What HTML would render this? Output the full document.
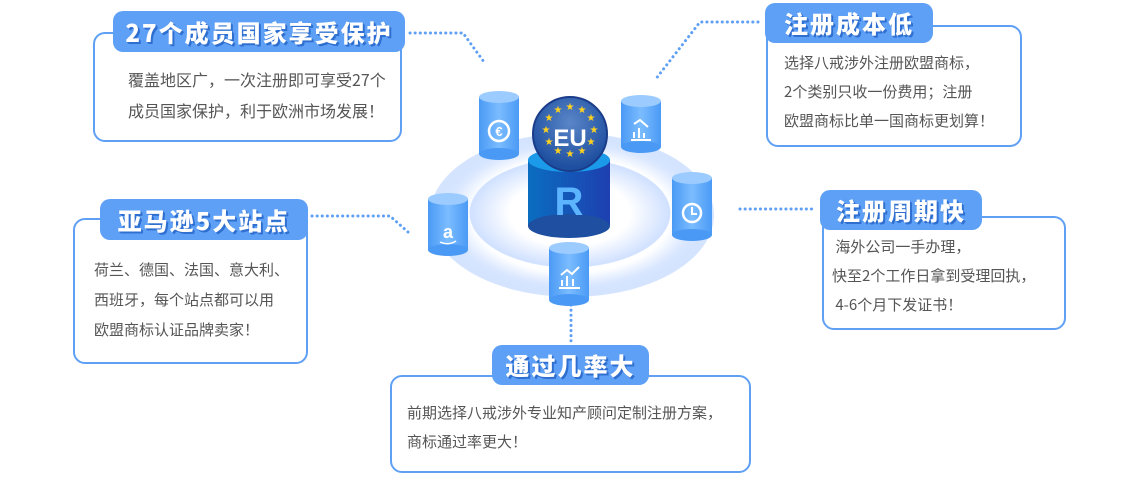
<!DOCTYPE html>
<html><head><meta charset="utf-8">
<style>
body{margin:0;width:1140px;height:493px;background:#fff;position:relative;overflow:hidden;font-family:"Liberation Sans","Noto Sans CJK SC",sans-serif;}
.box{position:absolute;border:2px solid #5fa0f5;border-radius:12px;background:#fff;box-sizing:border-box;}
.pill{position:absolute;background:#5fa0f7;border-radius:10px;color:#fff;font-weight:900;font-size:24px;text-align:center;box-sizing:border-box;text-shadow:1px 1px 0 #2e6fd0,2px 2px 0 #2e6fd0;letter-spacing:2px;font-family:"Noto Sans CJK SC",sans-serif;}
.t{position:absolute;white-space:nowrap;color:#555;font-family:"Noto Sans CJK SC",sans-serif;}
svg{position:absolute;left:0;top:0;}
</style></head><body>
<svg width="1140" height="493">
<defs>
<radialGradient id="ring" cx="50%" cy="50%" r="50%">
<stop offset="0.7" stop-color="#fff"/><stop offset="0.85" stop-color="#dbe8ff"/><stop offset="1" stop-color="#b9d3ff" stop-opacity="0.6"/></radialGradient>
<radialGradient id="inner" cx="50%" cy="50%" r="50%">
<stop offset="0.6" stop-color="#fff"/><stop offset="1" stop-color="#cfe0ff"/></radialGradient>
<linearGradient id="cyl" x1="0" x2="1"><stop offset="0" stop-color="#4a9af5"/><stop offset="0.5" stop-color="#7bbcff"/><stop offset="1" stop-color="#4a9af5"/></linearGradient>
<linearGradient id="big" x1="0" x2="1"><stop offset="0" stop-color="#0a6ec0"/><stop offset="1" stop-color="#1e3fb0"/></linearGradient>
<radialGradient id="eu" cx="50%" cy="35%" r="60%"><stop offset="0" stop-color="#5a86c8"/><stop offset="1" stop-color="#1e4fa0"/></radialGradient>
</defs>
<ellipse cx="572" cy="215" rx="142" ry="82" fill="url(#ring)"/>
<ellipse cx="570" cy="213" rx="100" ry="54" fill="url(#inner)" stroke="#d4e4ff"/>
<g fill="none" stroke="#5fa0f5" stroke-width="3" stroke-dasharray="0.1 5" stroke-linecap="round">
<path d="M410 33 H463 L484 62"/>
<path d="M758 22 H700 L655 80"/>
<path d="M312 216 H390 L408 232"/>
<path d="M740 209 H815"/>
<path d="M571 305 V345"/>
</g>
<rect x="528" y="160" width="82" height="66" fill="url(#big)"/>
<ellipse cx="569" cy="226" rx="41" ry="12" fill="#1e4fa0"/>
<ellipse cx="569" cy="160" rx="41" ry="12" fill="#1a9ae8"/>
<text x="569" y="215" text-anchor="middle" font-size="40" font-weight="bold" fill="#5cb4ff" font-family="Liberation Sans">R</text>
<circle cx="570" cy="134" r="37" fill="url(#eu)" stroke="#1a3c8a" stroke-width="2"/>
<text x="570" y="146" text-anchor="middle" font-size="24" font-weight="bold" fill="#fff" font-family="Liberation Sans">EU</text>
<g fill="#ffd21f" font-size="10" text-anchor="middle" font-family="DejaVu Sans">
<text x="570" y="110">★</text><text x="582" y="113">★</text><text x="591" y="121">★</text><text x="594" y="133">★</text><text x="591" y="145">★</text><text x="582" y="154">★</text><text x="570" y="157">★</text><text x="558" y="154">★</text><text x="549" y="145">★</text><text x="546" y="133">★</text><text x="549" y="121">★</text><text x="558" y="113">★</text>
</g>
<g>
<rect x="479" y="97" width="40" height="57" fill="url(#cyl)"/><ellipse cx="499" cy="154" rx="20" ry="6" fill="#4a9af5"/><ellipse cx="499" cy="97" rx="20" ry="6" fill="#9ccbff"/>
<circle cx="499" cy="131" r="10" fill="none" stroke="#fff" stroke-width="2.5"/><text x="499" y="136" text-anchor="middle" fill="#fff" font-size="13" font-weight="bold">€</text>
<rect x="621" y="101" width="40" height="46" fill="url(#cyl)"/><ellipse cx="641" cy="147" rx="20" ry="6" fill="#4a9af5"/><ellipse cx="641" cy="101" rx="20" ry="6" fill="#9ccbff"/>
<path d="M631 140 H651 M634 138 V132 M639 138 V128 M644 138 V133 M634 124 L640 120 L648 127" stroke="#fff" stroke-width="2" fill="none"/>
<rect x="672" y="178" width="40" height="57" fill="url(#cyl)"/><ellipse cx="692" cy="235" rx="20" ry="6" fill="#4a9af5"/><ellipse cx="692" cy="178" rx="20" ry="6" fill="#9ccbff"/>
<circle cx="692" cy="213" r="9" fill="none" stroke="#fff" stroke-width="2.5"/><path d="M692 207 V214 H697" stroke="#fff" stroke-width="2" fill="none"/>
<rect x="428" y="199" width="40" height="51" fill="url(#cyl)"/><ellipse cx="448" cy="250" rx="20" ry="6" fill="#4a9af5"/><ellipse cx="448" cy="199" rx="20" ry="6" fill="#9ccbff"/>
<text x="448" y="238" text-anchor="middle" fill="#fff" font-size="18" font-weight="bold">a</text><path d="M440 242 Q448 246 456 241" stroke="#fff" stroke-width="1.5" fill="none"/>
<rect x="549" y="248" width="40" height="52" fill="url(#cyl)"/><ellipse cx="569" cy="300" rx="20" ry="6" fill="#4a9af5"/><ellipse cx="569" cy="248" rx="20" ry="6" fill="#9ccbff"/>
<path d="M559 288 H580 M562 286 V280 M567 286 V276 M573 286 V279 M561 275 L567 270 L572 274 L579 267" stroke="#fff" stroke-width="2" fill="none"/>
</g>
</svg>

<div class="box" style="left:93px;top:32px;width:309px;height:110px;"></div>
<div class="pill" style="left:113px;top:11px;width:292px;height:41px;line-height:41px;">27个成员国家享受保护</div>
<div class="t" style="left:128px;top:64px;font-size:16px;line-height:31px;">覆盖地区广，一次注册即可享受27个<br>成员国家保护，利于欧洲市场发展！</div>

<div class="box" style="left:766px;top:25px;width:256px;height:122px;"></div>
<div class="pill" style="left:765px;top:3px;width:168px;height:40px;line-height:40px;">注册成本低</div>
<div class="t" style="left:784px;top:48px;font-size:15px;line-height:29px;">选择八戒涉外注册欧盟商标，<br>2个类别只收一份费用；注册<br>欧盟商标比单一国商标更划算！</div>

<div class="box" style="left:73px;top:218px;width:235px;height:146px;"></div>
<div class="pill" style="left:100px;top:199px;width:208px;height:41px;line-height:41px;">亚马逊5大站点</div>
<div class="t" style="left:94px;top:255px;font-size:15px;line-height:30px;">荷兰、德国、法国、意大利、<br>西班牙，每个站点都可以用<br>欧盟商标认证品牌卖家！</div>

<div class="box" style="left:822px;top:216px;width:244px;height:114px;"></div>
<div class="pill" style="left:820px;top:190px;width:162px;height:40px;line-height:40px;">注册周期快</div>
<div class="t" style="left:832px;top:232px;font-size:15px;line-height:29px;">&nbsp;海外公司一手办理，<br>快至2个工作日拿到受理回执，<br>&nbsp;4-6个月下发证书！</div>

<div class="box" style="left:390px;top:375px;width:361px;height:98px;"></div>
<div class="pill" style="left:492px;top:345px;width:157px;height:40px;line-height:40px;">通过几率大</div>
<div class="t" style="left:407px;top:398px;font-size:15px;line-height:29px;">前期选择八戒涉外专业知产顾问定制注册方案，<br>商标通过率更大！</div>
</body></html>
